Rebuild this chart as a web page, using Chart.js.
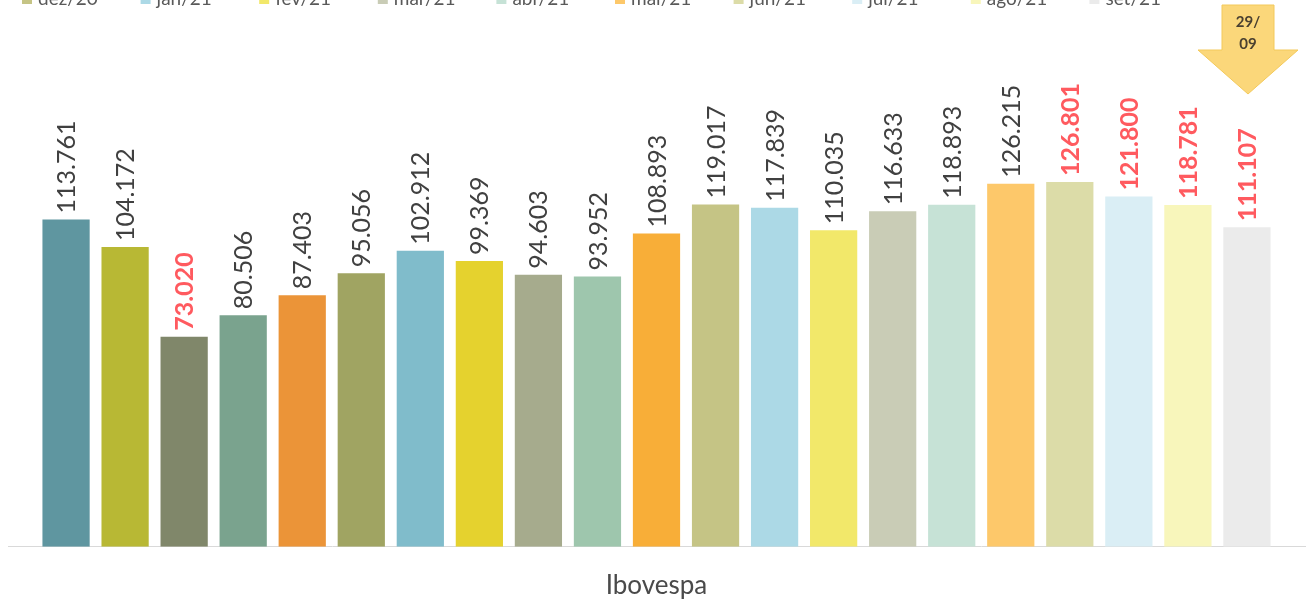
<!DOCTYPE html>
<html lang="pt-BR">
<head>
  <meta charset="UTF-8">
  <title>Ibovespa - fechamento mensal</title>
  <script src="https://cdn.jsdelivr.net/npm/chart.js"></script>
  <style>
    html, body { margin: 0; padding: 0; background: #fff; overflow: hidden; }
    #wrap { position: relative; width: 1313px; height: 600px; }
  </style>
</head>
<body>

<div id="wrap"><canvas id="ibov" width="1313" height="600"></canvas></div>

<script>
  // meses (uma série por mês, como no gráfico original)
  const meses = [
    'jan/20', 'fev/20', 'mar/20', 'abr/20', 'mai/20', 'jun/20', 'jul/20',
    'ago/20', 'set/20', 'out/20', 'nov/20', 'dez/20', 'jan/21', 'fev/21',
    'mar/21', 'abr/21', 'mai/21', 'jun/21', 'jul/21', 'ago/21', 'set/21'
  ];

  // pontos do Ibovespa no fechamento
  const pontos = [
    113761, 104172, 73020, 80506, 87403, 95056, 102912,
    99369, 94603, 93952, 108893, 119017, 117839, 110035,
    116633, 118893, 126215, 126801, 121800, 118781, 111107
  ];

  const cores = [
    '#5f96a0', '#b8b834', '#80876a', '#7aa38e', '#eb9438', '#a0a462', '#80bccb',
    '#e5d22e', '#a6ab8d', '#9ec6ad', '#f8ae38', '#c5c485', '#acd9e6', '#f2e86a',
    '#c9ccb6', '#c6e2d6', '#fdc86a', '#dcdca8', '#daeef5', '#f8f6bb', '#ebebeb'
  ];

  // rótulos destacados em vermelho
  const emVermelho = ['mar/20', 'jun/21', 'jul/21', 'ago/21', 'set/21'];

  const categoria = ['Ibovespa'];

  function formata(v) {
    return String(v).replace(/\B(?=(\d{3})+(?!\d))/g, '.');
  }

  // rótulos de dados verticais acima de cada barra
  const rotulos = {
    id: 'rotulos',
    afterDatasetsDraw(chart) {
      const ctx = chart.ctx;
      chart.data.datasets.forEach((ds, i) => {
        const bar = chart.getDatasetMeta(i).data[0];
        const red = emVermelho.includes(ds.label);
        ctx.save();
        ctx.translate(bar.x + 1, bar.y - 6);
        ctx.rotate(-Math.PI / 2);
        ctx.font = (red ? 'bold ' : '') + '25px Lato';
        ctx.fillStyle = red ? '#ff5a5f' : '#404040';
        ctx.textAlign = 'left';
        ctx.textBaseline = 'middle';
        ctx.fillText(formata(ds.data[0]), 0, 0);
        ctx.restore();
      });
    }
  };

  // legenda em grade (a primeira linha fica fora da imagem, como no original)
  const legenda = {
    id: 'legenda',
    afterDraw(chart) {
      const ctx = chart.ctx;
      ctx.save();
      ctx.font = '19px Lato';
      ctx.textBaseline = 'alphabetic';
      chart.data.datasets.forEach((ds, i) => {
        const row = i < 11 ? 0 : 1;
        const col = row ? i - 11 : i;
        const x = 22 + col * 118.6;
        const y = 5 - (1 - row) * 25;
        ctx.fillStyle = ds.backgroundColor;
        ctx.fillRect(x, y - 11, 10, 10);
        ctx.fillStyle = '#595959';
        ctx.fillText(ds.label, x + 16, y);
      });
      ctx.restore();
    }
  };

  // seta "29/09"
  const seta = {
    id: 'seta',
    afterDraw(chart) {
      const ctx = chart.ctx;
      const cx = 1248;
      ctx.save();
      ctx.beginPath();
      ctx.moveTo(cx - 26, 5);
      ctx.lineTo(cx + 26, 5);
      ctx.lineTo(cx + 26, 50);
      ctx.lineTo(cx + 50, 50);
      ctx.lineTo(cx, 94);
      ctx.lineTo(cx - 50, 50);
      ctx.lineTo(cx - 26, 50);
      ctx.closePath();
      ctx.fillStyle = '#fbd77a';
      ctx.fill();
      ctx.strokeStyle = '#f3c95a';
      ctx.lineWidth = 1;
      ctx.stroke();
      ctx.fillStyle = '#4a4030';
      ctx.font = 'bold 15px Lato';
      ctx.textAlign = 'center';
      ctx.textBaseline = 'middle';
      ctx.fillText('29/', cx, 22);
      ctx.fillText('09', cx, 44);
      ctx.restore();
    }
  };

  new Chart(document.getElementById('ibov'), {
    type: 'bar',
    data: {
      labels: categoria,
      datasets: meses.map((m, i) => ({
        label: m,
        data: [pontos[i]],
        backgroundColor: cores[i],
        categoryPercentage: 0.956,
        barPercentage: 0.8
      }))
    },
    options: {
      responsive: false,
      animation: false,
      layout: { padding: { top: 86.5, left: 8, right: 8, bottom: -16 } },
      plugins: {
        legend: { display: false },
        tooltip: { enabled: false }
      },
      scales: {
        x: {
          grid: { display: false },
          border: { display: true, color: '#d9d9d9', width: 1 },
          ticks: { color: '#4a4a4a', font: { family: 'Lato', size: 26 }, padding: 15 }
        },
        y: {
          display: false,
          min: 0,
          max: 160000
        }
      }
    },
    plugins: [rotulos, legenda, seta]
  });
</script>

</body>
</html>
